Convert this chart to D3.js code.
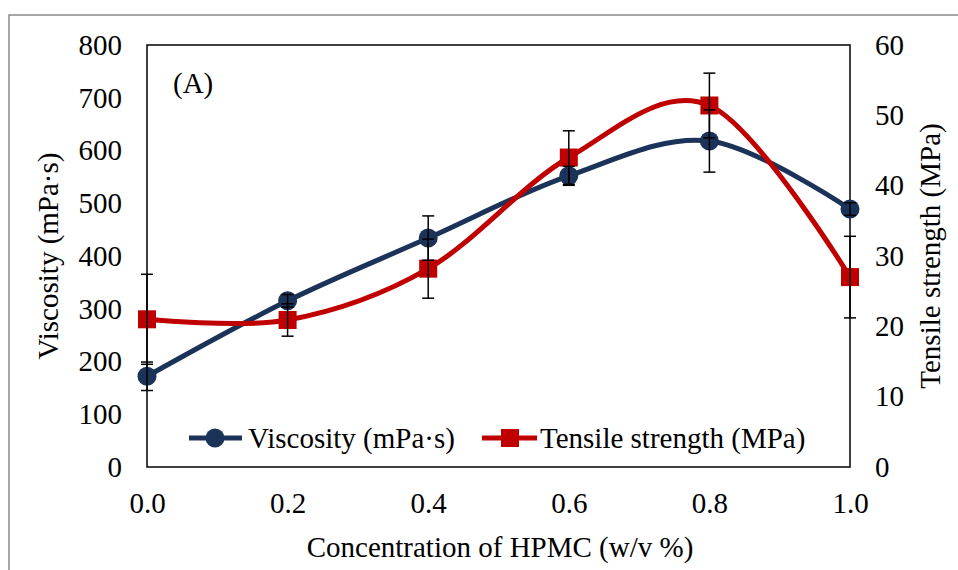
<!DOCTYPE html>
<html><head><meta charset="utf-8">
<script src="https://cdn.jsdelivr.net/npm/d3@7"></script>
<style>body{margin:0;background:#fff}svg{display:block}</style>
</head><body><svg id="c" width="958" height="570" font-family="Liberation Serif, Times New Roman, serif"></svg>
<script>
const concentrations = [0, 0.2, 0.4, 0.6, 0.8, 1.0];
const viscosity = [172, 315, 434, 552, 618, 489];
const viscosityErr = [27, 12, 42, 18, 59, 12];
const tensile = [21.0, 20.9, 28.2, 44.0, 51.4, 27.0];
const tensileErr = [6.4, 2.3, 4.2, 3.8, 4.6, 5.8];
const xTicks = [0, 0.2, 0.4, 0.6, 0.8, 1.0];
const yLeftTicks = [0, 100, 200, 300, 400, 500, 600, 700, 800];
const yRightTicks = [0, 10, 20, 30, 40, 50, 60];

const FONT = '"Liberation Serif","Times New Roman",serif';
const svg = d3.select("#c");
const L = 147, R = 850, T = 45, B = 467;
const x = d3.scaleLinear().domain([0, 1]).range([L, R]);
const yL = d3.scaleLinear().domain([0, 800]).range([B, T]);
const yR = d3.scaleLinear().domain([0, 60]).range([B, T]);
const navy = "#1b3358", red = "#c00000";

svg.append("rect").attr("x", 9).attr("y", 15).attr("width", 1000).attr("height", 1000)
  .attr("fill", "none").attr("stroke", "#8a8a8a").attr("stroke-width", 1.5);
svg.append("rect").attr("x", L).attr("y", T).attr("width", R - L).attr("height", B - T)
  .attr("fill", "none").attr("stroke", "#000").attr("stroke-width", 1.5);

const fs = 29;
const axL = d3.axisLeft(yL).tickValues(yLeftTicks).tickSize(0).tickPadding(25).tickFormat(d3.format("d"));
const gL = svg.append("g").attr("transform", `translate(${L},0)`).call(axL);
const axR = d3.axisRight(yR).tickValues(yRightTicks).tickSize(0).tickPadding(25).tickFormat(d3.format("d"));
const gR = svg.append("g").attr("transform", `translate(${R},0)`).call(axR);
const axB = d3.axisBottom(x).tickValues(xTicks).tickSize(0).tickPadding(25).tickFormat(d3.format(".1f"));
const gB = svg.append("g").attr("transform", `translate(0,${B})`).call(axB);
[gL, gR, gB].forEach(g => {
  g.attr("font-family", FONT).attr("font-size", fs);
  g.select(".domain").remove();
  g.selectAll("text").attr("fill", "#000");
});

function label(txt) {
  return svg.append("text").attr("font-family", FONT).attr("font-size", fs).attr("fill", "#000").text(txt);
}
label("Viscosity (mPa·s)").attr("transform", "translate(58,256) rotate(-90)").attr("text-anchor", "middle");
label("Tensile strength (MPa)").attr("transform", "translate(940,256) rotate(-90)").attr("text-anchor", "middle");
label("Concentration of HPMC (w/v %)").attr("x", 500).attr("y", 557).attr("text-anchor", "middle");
label("(A)").attr("x", 173).attr("y", 93);

const curve = d3.curveCardinal.tension(0);
const idx = d3.range(concentrations.length);
const lineV = d3.line().x(i => x(concentrations[i])).y(i => yL(viscosity[i])).curve(curve);
const lineT = d3.line().x(i => x(concentrations[i])).y(i => yR(tensile[i])).curve(curve);

svg.append("path").attr("d", lineV(idx)).attr("fill", "none").attr("stroke", navy).attr("stroke-width", 5);
svg.selectAll(".mv").data(idx).enter().append("circle")
  .attr("cx", i => x(concentrations[i])).attr("cy", i => yL(viscosity[i])).attr("r", 9.5).attr("fill", navy);
svg.append("path").attr("d", lineT(idx)).attr("fill", "none").attr("stroke", red).attr("stroke-width", 5);
const sq = 18;
svg.selectAll(".mt").data(idx).enter().append("rect")
  .attr("x", i => x(concentrations[i]) - sq / 2).attr("y", i => yR(tensile[i]) - sq / 2)
  .attr("width", sq).attr("height", sq).attr("fill", red);

function errBars(vals, errs, y) {
  const g = svg.append("g").attr("stroke", "#000").attr("stroke-width", 1.5);
  idx.forEach(i => {
    const cx = x(concentrations[i]), y1 = y(vals[i] + errs[i]), y0 = y(vals[i] - errs[i]);
    g.append("line").attr("x1", cx).attr("x2", cx).attr("y1", y1).attr("y2", y0);
    g.append("line").attr("x1", cx - 6).attr("x2", cx + 6).attr("y1", y1).attr("y2", y1);
    g.append("line").attr("x1", cx - 6).attr("x2", cx + 6).attr("y1", y0).attr("y2", y0);
  });
}
errBars(viscosity, viscosityErr, yL);
errBars(tensile, tensileErr, yR);

// legend
const ly = 438;
const lg = svg.append("g");
lg.append("line").attr("x1", 189).attr("x2", 242).attr("y1", ly).attr("y2", ly).attr("stroke", navy).attr("stroke-width", 5);
lg.append("circle").attr("cx", 215).attr("cy", ly).attr("r", 9.5).attr("fill", navy);
lg.append("text").attr("x", 248).attr("y", ly + 10).attr("font-family", FONT).attr("font-size", fs).text("Viscosity (mPa·s)");
lg.append("line").attr("x1", 482).attr("x2", 537).attr("y1", ly).attr("y2", ly).attr("stroke", red).attr("stroke-width", 5);
lg.append("rect").attr("x", 510 - sq / 2).attr("y", ly - sq / 2).attr("width", sq).attr("height", sq).attr("fill", red);
lg.append("text").attr("x", 540).attr("y", ly + 10).attr("font-family", FONT).attr("font-size", fs).text("Tensile strength (MPa)");
</script></body></html>
